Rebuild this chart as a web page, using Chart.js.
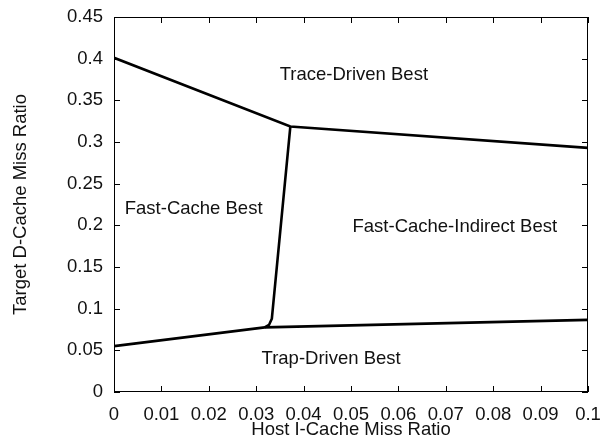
<!DOCTYPE html>
<html>
<head>
<meta charset="utf-8">
<script src="https://cdn.jsdelivr.net/npm/chart.js@4"></script>
<style>
  body { margin: 0; background: #fff; }
  #wrap { width: 600px; height: 439px; }
</style>
</head>
<body>
<div id="wrap"><canvas id="myChart" width="600" height="439"></canvas></div>
<script>
// region boundaries (x = host I-cache miss ratio, y = target D-cache miss ratio)
const upperX = [0, 0.0372, 0.1];
const upperY = [0.401, 0.3185, 0.293];
const lowerX = [0, 0.0318, 0.1];
const lowerY = [0.055, 0.0775, 0.0865];
const splitX = [0.0318, 0.0327, 0.0333, 0.0372];
const splitY = [0.0775, 0.0805, 0.088, 0.3185];

// region labels
const regionNames = ['Trace-Driven Best', 'Fast-Cache Best', 'Fast-Cache-Indirect Best', 'Trap-Driven Best'];
const regionX = [0.0506, 0.0168, 0.0719, 0.0458];
const regionY = [0.380, 0.2196, 0.1984, 0.0396];

const xTicks = [0, 0.01, 0.02, 0.03, 0.04, 0.05, 0.06, 0.07, 0.08, 0.09, 0.1];
const yTicks = [0, 0.05, 0.1, 0.15, 0.2, 0.25, 0.3, 0.35, 0.4, 0.45];

const FONT = 'Liberation Sans, Arial, Helvetica, sans-serif';
const FSIZE = 18.5;
const TXT = '#111';

function toPoints(xs, ys) {
    return xs.map((x, i) => ({ x: x, y: ys[i] }));
}

function lineSet(xs, ys) {
    return {
        data: toPoints(xs, ys),
        borderColor: '#000',
        borderWidth: 2.6,
        pointRadius: 0,
        showLine: true,
        tension: 0,
        fill: false
    };
}

// frame with inward ticks on all four sides, gnuplot style
const framePlugin = {
    id: 'frame',
    afterDatasetsDraw(chart) {
        const ctx = chart.ctx;
        const a = chart.chartArea;
        const xs = chart.scales.x, ys = chart.scales.y;
        ctx.save();
        ctx.strokeStyle = '#000';
        ctx.lineWidth = 1;
        ctx.strokeRect(a.left + 0.5, a.top + 0.5, a.right - a.left - 1, a.bottom - a.top - 1);
        ctx.beginPath();
        xTicks.forEach(v => {
            const px = Math.round(xs.getPixelForValue(v)) + 0.5;
            ctx.moveTo(px, a.bottom); ctx.lineTo(px, a.bottom - 6);
            ctx.moveTo(px, a.top); ctx.lineTo(px, a.top + 6);
        });
        yTicks.forEach(v => {
            const py = Math.round(ys.getPixelForValue(v)) + 0.5;
            ctx.moveTo(a.left, py); ctx.lineTo(a.left + 6, py);
            ctx.moveTo(a.right, py); ctx.lineTo(a.right - 6, py);
        });
        ctx.stroke();

        ctx.fillStyle = TXT;
        ctx.font = FSIZE + 'px ' + FONT;
        ctx.textAlign = 'center';
        ctx.textBaseline = 'middle';
        regionNames.forEach((name, i) => {
            ctx.fillText(name, xs.getPixelForValue(regionX[i]), ys.getPixelForValue(regionY[i]));
        });
        ctx.restore();
    }
};

const ctx = document.getElementById('myChart').getContext('2d');
new Chart(ctx, {
    type: 'scatter',
    data: {
        datasets: [
            lineSet(upperX, upperY),
            lineSet(lowerX, lowerY),
            lineSet(splitX, splitY)
        ]
    },
    options: {
        responsive: false,
        animation: false,
        layout: { padding: { top: 17, right: 12, left: 10, bottom: 0 } },
        plugins: {
            legend: { display: false },
            tooltip: { enabled: false }
        },
        scales: {
            x: {
                type: 'linear',
                min: 0,
                max: 0.1,
                afterBuildTicks: s => { s.ticks = xTicks.map(v => ({ value: v })); },
                afterFit: s => { s.height = 47; s.paddingLeft = 0; s.paddingRight = 0; },
                grid: { display: false, drawTicks: false },
                border: { display: false },
                ticks: {
                    color: TXT,
                    padding: 12,
                    maxRotation: 0,
                    autoSkip: false,
                    font: { family: FONT, size: FSIZE },
                    callback: v => String(+v.toFixed(2))
                },
                title: {
                    display: true,
                    text: 'Host I-Cache Miss Ratio',
                    color: TXT,
                    padding: { top: 0, bottom: -2 },
                    font: { family: FONT, size: FSIZE }
                }
            },
            y: {
                type: 'linear',
                min: 0,
                max: 0.45,
                afterBuildTicks: s => { s.ticks = yTicks.map(v => ({ value: v })); },
                afterFit: s => { s.width = 104; s.paddingTop = 0; s.paddingBottom = 0; },
                grid: { display: false, drawTicks: false },
                border: { display: false },
                ticks: {
                    color: TXT,
                    padding: 11,
                    autoSkip: false,
                    font: { family: FONT, size: FSIZE },
                    callback: v => String(+v.toFixed(2))
                },
                title: {
                    display: true,
                    text: 'Target D-Cache Miss Ratio',
                    color: TXT,
                    padding: { top: 0, bottom: 0 },
                    font: { family: FONT, size: FSIZE }
                }
            }
        }
    },
    plugins: [framePlugin]
});
</script>
</body>
</html>
